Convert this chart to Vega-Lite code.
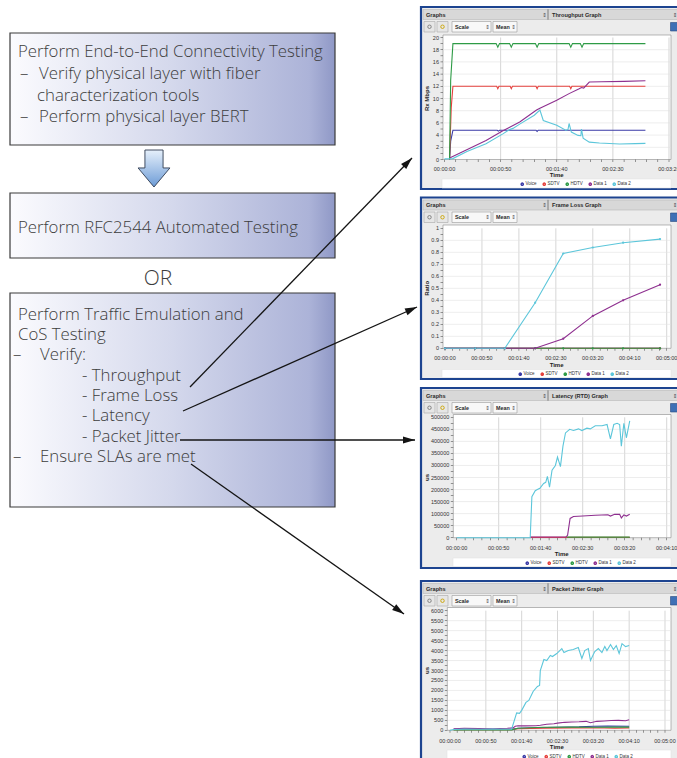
{
  "$schema": "https://vega.github.io/schema/vega-lite/v6.json",
  "width": 677,
  "height": 758,
  "autosize": {"type": "none"},
  "padding": 0,
  "background": "#ffffff",
  "config": {"view": {"stroke": null}},
  "datasets": {
    "boxes": [
      {"x": 10, "x2": 335, "y": 33, "y2": 145},
      {"x": 10, "x2": 335, "y": 193, "y2": 258},
      {"x": 10, "x2": 335, "y": 293, "y2": 507}
    ],
    "texts": [
      {"k": "b", "x": 18, "y": 57, "text": "Perform End-to-End Connectivity Testing"},
      {"k": "b", "x": 20, "y": 79, "text": "–"},
      {"k": "b", "x": 39, "y": 79, "text": "Verify physical layer with fiber"},
      {"k": "b", "x": 37, "y": 101, "text": "characterization tools"},
      {"k": "b", "x": 20, "y": 122, "text": "–"},
      {"k": "b", "x": 39, "y": 122, "text": "Perform physical layer BERT"},
      {"k": "b", "x": 18, "y": 233, "text": "Perform RFC2544 Automated Testing"},
      {"k": "or", "x": 158, "y": 285, "text": "OR"},
      {"k": "b", "x": 18, "y": 320, "text": "Perform Traffic Emulation and"},
      {"k": "b", "x": 18, "y": 340, "text": "CoS Testing"},
      {"k": "b", "x": 13, "y": 360, "text": "–"},
      {"k": "b", "x": 40, "y": 360, "text": "Verify:"},
      {"k": "b", "x": 82, "y": 380.5, "text": "- Throughput"},
      {"k": "b", "x": 82, "y": 401, "text": "- Frame Loss"},
      {"k": "b", "x": 82, "y": 421, "text": "- Latency"},
      {"k": "b", "x": 82, "y": 442, "text": "- Packet Jitter"},
      {"k": "b", "x": 13, "y": 462, "text": "–"},
      {"k": "b", "x": 40, "y": 462, "text": "Ensure SLAs are met"}
    ],
    "arrows": [
      {"x": 190, "y": 387, "x2": 412, "y2": 158},
      {"x": 183, "y": 411, "x2": 417, "y2": 307},
      {"x": 180, "y": 440, "x2": 415, "y2": 440},
      {"x": 191, "y": 464, "x2": 404, "y2": 614}
    ],
    "windows": [
      {"x": 421, "x2": 684, "y": 7, "y2": 189},
      {"x": 421, "x2": 684, "y": 197.5, "y2": 379},
      {"x": 421, "x2": 684, "y": 388, "y2": 568},
      {"x": 421, "x2": 684, "y": 581, "y2": 775}
    ],
    "chrome": [
      {"k": "bar", "x": 423, "x2": 680, "y": 9.5, "y2": 19.5},
      {"k": "div", "x": 547.6, "x2": 548.4, "y": 9.5, "y2": 19.5},
      {"k": "btn", "x": 424, "x2": 435, "y": 21.5, "y2": 32},
      {"k": "btn", "x": 437, "x2": 448, "y": 21.5, "y2": 32},
      {"k": "drop", "x": 452, "x2": 491, "y": 21.5, "y2": 32},
      {"k": "drop", "x": 493, "x2": 517, "y": 21.5, "y2": 32},
      {"k": "save", "x": 670.5, "x2": 678, "y": 22.5, "y2": 31},
      {"k": "plot", "x": 443, "x2": 671, "y": 35, "y2": 159.5},
      {"k": "leg", "x": 442, "x2": 671, "y": 179, "y2": 188},
      {"k": "bar", "x": 423, "x2": 680, "y": 200, "y2": 210},
      {"k": "div", "x": 547.6, "x2": 548.4, "y": 200, "y2": 210},
      {"k": "btn", "x": 424, "x2": 435, "y": 212, "y2": 222.5},
      {"k": "btn", "x": 437, "x2": 448, "y": 212, "y2": 222.5},
      {"k": "drop", "x": 452, "x2": 491, "y": 212, "y2": 222.5},
      {"k": "drop", "x": 493, "x2": 517, "y": 212, "y2": 222.5},
      {"k": "save", "x": 670.5, "x2": 678, "y": 213, "y2": 221.5},
      {"k": "plot", "x": 443, "x2": 671, "y": 225, "y2": 348.3},
      {"k": "leg", "x": 442, "x2": 671, "y": 369.5, "y2": 377.5},
      {"k": "bar", "x": 423, "x2": 680, "y": 390.5, "y2": 400.5},
      {"k": "div", "x": 547.6, "x2": 548.4, "y": 390.5, "y2": 400.5},
      {"k": "btn", "x": 424, "x2": 435, "y": 402.5, "y2": 413},
      {"k": "btn", "x": 437, "x2": 448, "y": 402.5, "y2": 413},
      {"k": "drop", "x": 452, "x2": 491, "y": 402.5, "y2": 413},
      {"k": "drop", "x": 493, "x2": 517, "y": 402.5, "y2": 413},
      {"k": "save", "x": 670.5, "x2": 678, "y": 403.5, "y2": 412},
      {"k": "plot", "x": 453.3, "x2": 671, "y": 414.5, "y2": 537.7},
      {"k": "leg", "x": 453, "x2": 671, "y": 558, "y2": 566.5},
      {"k": "bar", "x": 423, "x2": 680, "y": 583.5, "y2": 593.5},
      {"k": "div", "x": 547.6, "x2": 548.4, "y": 583.5, "y2": 593.5},
      {"k": "btn", "x": 424, "x2": 435, "y": 595.5, "y2": 606},
      {"k": "btn", "x": 437, "x2": 448, "y": 595.5, "y2": 606},
      {"k": "drop", "x": 452, "x2": 491, "y": 595.5, "y2": 606},
      {"k": "drop", "x": 493, "x2": 517, "y": 595.5, "y2": 606},
      {"k": "save", "x": 670.5, "x2": 678, "y": 596.5, "y2": 605},
      {"k": "plot", "x": 447.3, "x2": 671, "y": 607.5, "y2": 730.3},
      {"k": "leg", "x": 447, "x2": 671, "y": 750, "y2": 763}
    ],
    "labels": [
      {"k": "hdr", "x": 426, "y": 14.5, "text": "Graphs"},
      {"k": "hdr", "x": 552, "y": 14.5, "text": "Throughput Graph"},
      {"k": "sym", "x": 544.5, "y": 14.5, "text": "⇕"},
      {"k": "sym", "x": 675, "y": 14.5, "text": "⇕"},
      {"k": "drop", "x": 455, "y": 26.75, "text": "Scale"},
      {"k": "sym", "x": 487.5, "y": 26.75, "text": "⇕"},
      {"k": "drop", "x": 496, "y": 26.75, "text": "Mean"},
      {"k": "sym", "x": 513.5, "y": 26.75, "text": "⇕"},
      {"k": "hdr", "x": 426, "y": 205, "text": "Graphs"},
      {"k": "hdr", "x": 552, "y": 205, "text": "Frame Loss Graph"},
      {"k": "sym", "x": 544.5, "y": 205, "text": "⇕"},
      {"k": "sym", "x": 675, "y": 205, "text": "⇕"},
      {"k": "drop", "x": 455, "y": 217.25, "text": "Scale"},
      {"k": "sym", "x": 487.5, "y": 217.25, "text": "⇕"},
      {"k": "drop", "x": 496, "y": 217.25, "text": "Mean"},
      {"k": "sym", "x": 513.5, "y": 217.25, "text": "⇕"},
      {"k": "hdr", "x": 426, "y": 395.5, "text": "Graphs"},
      {"k": "hdr", "x": 552, "y": 395.5, "text": "Latency (RTD) Graph"},
      {"k": "sym", "x": 544.5, "y": 395.5, "text": "⇕"},
      {"k": "sym", "x": 675, "y": 395.5, "text": "⇕"},
      {"k": "drop", "x": 455, "y": 407.75, "text": "Scale"},
      {"k": "sym", "x": 487.5, "y": 407.75, "text": "⇕"},
      {"k": "drop", "x": 496, "y": 407.75, "text": "Mean"},
      {"k": "sym", "x": 513.5, "y": 407.75, "text": "⇕"},
      {"k": "hdr", "x": 426, "y": 588.5, "text": "Graphs"},
      {"k": "hdr", "x": 552, "y": 588.5, "text": "Packet Jitter Graph"},
      {"k": "sym", "x": 544.5, "y": 588.5, "text": "⇕"},
      {"k": "sym", "x": 675, "y": 588.5, "text": "⇕"},
      {"k": "drop", "x": 455, "y": 600.75, "text": "Scale"},
      {"k": "sym", "x": 487.5, "y": 600.75, "text": "⇕"},
      {"k": "drop", "x": 496, "y": 600.75, "text": "Mean"},
      {"k": "sym", "x": 513.5, "y": 600.75, "text": "⇕"}
    ],
    "icons": [
      {"k": "g", "x": 429.5, "y": 26.75}, {"k": "y", "x": 442.5, "y": 26.75},
      {"k": "g", "x": 429.5, "y": 217.25}, {"k": "y", "x": 442.5, "y": 217.25},
      {"k": "g", "x": 429.5, "y": 407.75}, {"k": "y", "x": 442.5, "y": 407.75},
      {"k": "g", "x": 429.5, "y": 600.75}, {"k": "y", "x": 442.5, "y": 600.75}
    ],
    "xt": [
      {"t": 0, "lab": "00:00:00"}, {"t": 10, "lab": ""}, {"t": 20, "lab": ""}, {"t": 30, "lab": ""}, {"t": 40, "lab": ""},
      {"t": 50, "lab": "00:00:50"}, {"t": 60, "lab": ""}, {"t": 70, "lab": ""}, {"t": 80, "lab": ""}, {"t": 90, "lab": ""},
      {"t": 100, "lab": "00:01:40"}, {"t": 110, "lab": ""}, {"t": 120, "lab": ""}, {"t": 130, "lab": ""}, {"t": 140, "lab": ""},
      {"t": 150, "lab": "00:02:30"}, {"t": 160, "lab": ""}, {"t": 170, "lab": ""}, {"t": 180, "lab": ""}, {"t": 190, "lab": ""},
      {"t": 200, "lab": "00:03:20"}, {"t": 210, "lab": ""}, {"t": 220, "lab": ""}, {"t": 230, "lab": ""}, {"t": 240, "lab": ""},
      {"t": 250, "lab": "00:04:10"}, {"t": 260, "lab": ""}, {"t": 270, "lab": ""}, {"t": 280, "lab": ""}, {"t": 290, "lab": ""},
      {"t": 300, "lab": "00:05:00"}
    ],
    "yt1": [
      {"v": 0}, {"v": 1}, {"v": 2}, {"v": 3}, {"v": 4}, {"v": 5}, {"v": 6}, {"v": 7}, {"v": 8}, {"v": 9}, {"v": 10},
      {"v": 11}, {"v": 12}, {"v": 13}, {"v": 14}, {"v": 15}, {"v": 16}, {"v": 17}, {"v": 18}, {"v": 19}, {"v": 20}
    ],
    "yt2": [
      {"v": 0}, {"v": 0.05}, {"v": 0.1}, {"v": 0.15}, {"v": 0.2}, {"v": 0.25}, {"v": 0.3}, {"v": 0.35}, {"v": 0.4}, {"v": 0.45}, {"v": 0.5},
      {"v": 0.55}, {"v": 0.6}, {"v": 0.65}, {"v": 0.7}, {"v": 0.75}, {"v": 0.8}, {"v": 0.85}, {"v": 0.9}, {"v": 0.95}, {"v": 1}
    ],
    "yt3": [
      {"v": 0}, {"v": 25000}, {"v": 50000}, {"v": 75000}, {"v": 100000}, {"v": 125000}, {"v": 150000}, {"v": 175000},
      {"v": 200000}, {"v": 225000}, {"v": 250000}, {"v": 275000}, {"v": 300000}, {"v": 325000}, {"v": 350000},
      {"v": 375000}, {"v": 400000}, {"v": 425000}, {"v": 450000}, {"v": 475000}, {"v": 500000}
    ],
    "yt4": [
      {"v": 0}, {"v": 250}, {"v": 500}, {"v": 750}, {"v": 1000}, {"v": 1250}, {"v": 1500}, {"v": 1750}, {"v": 2000},
      {"v": 2250}, {"v": 2500}, {"v": 2750}, {"v": 3000}, {"v": 3250}, {"v": 3500}, {"v": 3750}, {"v": 4000},
      {"v": 4250}, {"v": 4500}, {"v": 4750}, {"v": 5000}, {"v": 5250}, {"v": 5500}, {"v": 5750}, {"v": 6000}
    ],
    "tput": [
      {"s": "Voice", "t": 4.5, "v": 0}, {"s": "Voice", "t": 5.5, "v": 3}, {"s": "Voice", "t": 7.5, "v": 4.8},
      {"s": "Voice", "t": 47, "v": 4.8}, {"s": "Voice", "t": 48, "v": 4.65}, {"s": "Voice", "t": 49, "v": 4.8},
      {"s": "Voice", "t": 81.5, "v": 4.8}, {"s": "Voice", "t": 82.5, "v": 4.6}, {"s": "Voice", "t": 83.5, "v": 4.8},
      {"s": "Voice", "t": 179, "v": 4.8},
      {"s": "SDTV", "t": 4.5, "v": 0}, {"s": "SDTV", "t": 6, "v": 8.5}, {"s": "SDTV", "t": 7.5, "v": 12},
      {"s": "SDTV", "t": 46.5, "v": 12}, {"s": "SDTV", "t": 47.5, "v": 11.6}, {"s": "SDTV", "t": 48.5, "v": 12},
      {"s": "SDTV", "t": 58.5, "v": 12}, {"s": "SDTV", "t": 59.5, "v": 11.6}, {"s": "SDTV", "t": 60.5, "v": 12},
      {"s": "SDTV", "t": 81.5, "v": 12}, {"s": "SDTV", "t": 82.5, "v": 11.6}, {"s": "SDTV", "t": 83.5, "v": 12},
      {"s": "SDTV", "t": 111.5, "v": 12}, {"s": "SDTV", "t": 112.5, "v": 11.6}, {"s": "SDTV", "t": 113.5, "v": 12},
      {"s": "SDTV", "t": 179, "v": 12},
      {"s": "HDTV", "t": 4.5, "v": 0}, {"s": "HDTV", "t": 5.5, "v": 13}, {"s": "HDTV", "t": 7.5, "v": 19},
      {"s": "HDTV", "t": 46, "v": 19}, {"s": "HDTV", "t": 47.5, "v": 18.4}, {"s": "HDTV", "t": 49, "v": 19},
      {"s": "HDTV", "t": 58, "v": 19}, {"s": "HDTV", "t": 59.5, "v": 18.4}, {"s": "HDTV", "t": 61, "v": 19},
      {"s": "HDTV", "t": 81, "v": 19}, {"s": "HDTV", "t": 82.5, "v": 18.4}, {"s": "HDTV", "t": 84, "v": 19},
      {"s": "HDTV", "t": 111, "v": 19}, {"s": "HDTV", "t": 112.5, "v": 18.4}, {"s": "HDTV", "t": 114, "v": 19},
      {"s": "HDTV", "t": 121, "v": 19}, {"s": "HDTV", "t": 122.5, "v": 18.4}, {"s": "HDTV", "t": 124, "v": 19},
      {"s": "HDTV", "t": 179, "v": 19},
      {"s": "Data 1", "t": 5, "v": 0.3}, {"s": "Data 1", "t": 37, "v": 3.1}, {"s": "Data 1", "t": 52, "v": 4.7},
      {"s": "Data 1", "t": 67, "v": 6.15}, {"s": "Data 1", "t": 82, "v": 8.1}, {"s": "Data 1", "t": 85, "v": 8.4},
      {"s": "Data 1", "t": 100, "v": 9.7}, {"s": "Data 1", "t": 111, "v": 10.8}, {"s": "Data 1", "t": 120, "v": 11.6},
      {"s": "Data 1", "t": 122, "v": 11.8}, {"s": "Data 1", "t": 124, "v": 11.7}, {"s": "Data 1", "t": 129, "v": 12.7},
      {"s": "Data 1", "t": 140, "v": 12.75}, {"s": "Data 1", "t": 160, "v": 12.8}, {"s": "Data 1", "t": 179, "v": 12.9},
      {"s": "Data 2", "t": 0, "v": 0.1}, {"s": "Data 2", "t": 7.4, "v": 0.15}, {"s": "Data 2", "t": 20, "v": 1.3},
      {"s": "Data 2", "t": 37, "v": 2.6}, {"s": "Data 2", "t": 52, "v": 4.2}, {"s": "Data 2", "t": 58, "v": 4.9},
      {"s": "Data 2", "t": 61, "v": 5.1}, {"s": "Data 2", "t": 67, "v": 5.8}, {"s": "Data 2", "t": 80, "v": 7.25},
      {"s": "Data 2", "t": 85, "v": 8.1}, {"s": "Data 2", "t": 88, "v": 6.4}, {"s": "Data 2", "t": 100, "v": 5.6},
      {"s": "Data 2", "t": 108, "v": 4.8}, {"s": "Data 2", "t": 110, "v": 4.9}, {"s": "Data 2", "t": 111, "v": 5.9},
      {"s": "Data 2", "t": 113, "v": 4.5}, {"s": "Data 2", "t": 119, "v": 3.95}, {"s": "Data 2", "t": 121.5, "v": 3.9},
      {"s": "Data 2", "t": 122, "v": 5.0}, {"s": "Data 2", "t": 123.5, "v": 3.5}, {"s": "Data 2", "t": 129, "v": 2.85},
      {"s": "Data 2", "t": 138, "v": 2.7}, {"s": "Data 2", "t": 156, "v": 2.55}, {"s": "Data 2", "t": 170, "v": 2.6},
      {"s": "Data 2", "t": 179, "v": 2.65}
    ],
    "loss": [
      {"s": "Voice", "t": 0, "v": 0}, {"s": "Voice", "t": 291, "v": 0},
      {"s": "SDTV", "t": 0, "v": 0}, {"s": "SDTV", "t": 291, "v": 0},
      {"s": "HDTV", "t": 0, "v": 0}, {"s": "HDTV", "t": 41, "v": 0}, {"s": "HDTV", "t": 81, "v": 0}, {"s": "HDTV", "t": 122, "v": 0},
      {"s": "HDTV", "t": 160, "v": 0}, {"s": "HDTV", "t": 200, "v": 0}, {"s": "HDTV", "t": 241, "v": 0}, {"s": "HDTV", "t": 291, "v": 0},
      {"s": "Data 1", "t": 0, "v": 0}, {"s": "Data 1", "t": 41, "v": 0}, {"s": "Data 1", "t": 81, "v": 0}, {"s": "Data 1", "t": 122, "v": 0},
      {"s": "Data 1", "t": 160, "v": 0.08}, {"s": "Data 1", "t": 200, "v": 0.27}, {"s": "Data 1", "t": 241, "v": 0.40}, {"s": "Data 1", "t": 291, "v": 0.53},
      {"s": "Data 2", "t": 0, "v": 0}, {"s": "Data 2", "t": 41, "v": 0}, {"s": "Data 2", "t": 81, "v": 0}, {"s": "Data 2", "t": 122, "v": 0.38},
      {"s": "Data 2", "t": 160, "v": 0.79}, {"s": "Data 2", "t": 200, "v": 0.84}, {"s": "Data 2", "t": 241, "v": 0.88}, {"s": "Data 2", "t": 291, "v": 0.91}
    ],
    "lat": [
      {"s": "Voice", "t": 87.5, "v": 1000}, {"s": "Voice", "t": 206, "v": 1000},
      {"s": "SDTV", "t": 87.5, "v": 1500}, {"s": "SDTV", "t": 206, "v": 1500},
      {"s": "HDTV", "t": 131, "v": 2500}, {"s": "HDTV", "t": 206, "v": 2500},
      {"s": "Data 1", "t": 87.5, "v": 3000}, {"s": "Data 1", "t": 115, "v": 3000}, {"s": "Data 1", "t": 130, "v": 3500},
      {"s": "Data 1", "t": 132, "v": 10000}, {"s": "Data 1", "t": 135, "v": 80000}, {"s": "Data 1", "t": 139, "v": 88000},
      {"s": "Data 1", "t": 150, "v": 90000}, {"s": "Data 1", "t": 165, "v": 93000}, {"s": "Data 1", "t": 180, "v": 95000},
      {"s": "Data 1", "t": 183, "v": 90000}, {"s": "Data 1", "t": 188, "v": 97000}, {"s": "Data 1", "t": 194, "v": 97000},
      {"s": "Data 1", "t": 196, "v": 82000}, {"s": "Data 1", "t": 199, "v": 95000}, {"s": "Data 1", "t": 202, "v": 90000},
      {"s": "Data 1", "t": 206, "v": 97000},
      {"s": "Data 2", "t": 0, "v": 0}, {"s": "Data 2", "t": 87.5, "v": 0}, {"s": "Data 2", "t": 89.5, "v": 170000},
      {"s": "Data 2", "t": 93.5, "v": 195000}, {"s": "Data 2", "t": 96, "v": 200000}, {"s": "Data 2", "t": 99, "v": 205000},
      {"s": "Data 2", "t": 103.5, "v": 225000}, {"s": "Data 2", "t": 106, "v": 230000}, {"s": "Data 2", "t": 108, "v": 255000},
      {"s": "Data 2", "t": 110.5, "v": 210000}, {"s": "Data 2", "t": 113.5, "v": 280000}, {"s": "Data 2", "t": 117.5, "v": 300000},
      {"s": "Data 2", "t": 120, "v": 335000}, {"s": "Data 2", "t": 123.5, "v": 295000}, {"s": "Data 2", "t": 126.5, "v": 380000},
      {"s": "Data 2", "t": 129.5, "v": 435000}, {"s": "Data 2", "t": 134.5, "v": 450000}, {"s": "Data 2", "t": 139, "v": 445000},
      {"s": "Data 2", "t": 145, "v": 452000}, {"s": "Data 2", "t": 149, "v": 445000}, {"s": "Data 2", "t": 155, "v": 455000},
      {"s": "Data 2", "t": 159, "v": 452000}, {"s": "Data 2", "t": 165, "v": 465000}, {"s": "Data 2", "t": 173, "v": 465000},
      {"s": "Data 2", "t": 179, "v": 470000}, {"s": "Data 2", "t": 183, "v": 410000}, {"s": "Data 2", "t": 187, "v": 470000},
      {"s": "Data 2", "t": 191, "v": 475000}, {"s": "Data 2", "t": 194, "v": 470000}, {"s": "Data 2", "t": 196, "v": 380000},
      {"s": "Data 2", "t": 199, "v": 475000}, {"s": "Data 2", "t": 202, "v": 415000}, {"s": "Data 2", "t": 206, "v": 485000}
    ],
    "jit": [
      {"s": "Voice", "t": 5, "v": 50}, {"s": "Voice", "t": 50, "v": 40}, {"s": "Voice", "t": 86, "v": 50},
      {"s": "Voice", "t": 95, "v": 100}, {"s": "Voice", "t": 120, "v": 130}, {"s": "Voice", "t": 150, "v": 150},
      {"s": "Voice", "t": 180, "v": 170}, {"s": "Voice", "t": 200, "v": 200}, {"s": "Voice", "t": 220, "v": 210},
      {"s": "Voice", "t": 250, "v": 200},
      {"s": "SDTV", "t": 5, "v": 30}, {"s": "SDTV", "t": 86, "v": 30}, {"s": "SDTV", "t": 95, "v": 80},
      {"s": "SDTV", "t": 130, "v": 110}, {"s": "SDTV", "t": 170, "v": 120}, {"s": "SDTV", "t": 200, "v": 130},
      {"s": "SDTV", "t": 230, "v": 110}, {"s": "SDTV", "t": 250, "v": 120},
      {"s": "HDTV", "t": 5, "v": 20}, {"s": "HDTV", "t": 86, "v": 20}, {"s": "HDTV", "t": 95, "v": 100},
      {"s": "HDTV", "t": 130, "v": 150}, {"s": "HDTV", "t": 170, "v": 160}, {"s": "HDTV", "t": 200, "v": 150},
      {"s": "HDTV", "t": 230, "v": 160}, {"s": "HDTV", "t": 250, "v": 160},
      {"s": "Data 1", "t": 5, "v": 80}, {"s": "Data 1", "t": 20, "v": 100}, {"s": "Data 1", "t": 40, "v": 90},
      {"s": "Data 1", "t": 60, "v": 80}, {"s": "Data 1", "t": 80, "v": 100}, {"s": "Data 1", "t": 88, "v": 120},
      {"s": "Data 1", "t": 91, "v": 200}, {"s": "Data 1", "t": 95, "v": 230}, {"s": "Data 1", "t": 105, "v": 220},
      {"s": "Data 1", "t": 120, "v": 230}, {"s": "Data 1", "t": 126, "v": 250}, {"s": "Data 1", "t": 135, "v": 300},
      {"s": "Data 1", "t": 145, "v": 330}, {"s": "Data 1", "t": 150, "v": 360}, {"s": "Data 1", "t": 160, "v": 400},
      {"s": "Data 1", "t": 170, "v": 420}, {"s": "Data 1", "t": 180, "v": 430}, {"s": "Data 1", "t": 190, "v": 450},
      {"s": "Data 1", "t": 196, "v": 380}, {"s": "Data 1", "t": 205, "v": 450}, {"s": "Data 1", "t": 215, "v": 470},
      {"s": "Data 1", "t": 225, "v": 490}, {"s": "Data 1", "t": 235, "v": 500}, {"s": "Data 1", "t": 245, "v": 480},
      {"s": "Data 1", "t": 250, "v": 530},
      {"s": "Data 2", "t": 0, "v": 0}, {"s": "Data 2", "t": 5, "v": 40}, {"s": "Data 2", "t": 20, "v": 60},
      {"s": "Data 2", "t": 40, "v": 50}, {"s": "Data 2", "t": 60, "v": 60}, {"s": "Data 2", "t": 80, "v": 50},
      {"s": "Data 2", "t": 86, "v": 60}, {"s": "Data 2", "t": 93, "v": 870}, {"s": "Data 2", "t": 97, "v": 850},
      {"s": "Data 2", "t": 100, "v": 1000}, {"s": "Data 2", "t": 106, "v": 1400}, {"s": "Data 2", "t": 110, "v": 1500},
      {"s": "Data 2", "t": 116, "v": 1950}, {"s": "Data 2", "t": 122, "v": 2200}, {"s": "Data 2", "t": 125, "v": 2250},
      {"s": "Data 2", "t": 126, "v": 3000}, {"s": "Data 2", "t": 131, "v": 3550}, {"s": "Data 2", "t": 135, "v": 3500},
      {"s": "Data 2", "t": 140, "v": 3750}, {"s": "Data 2", "t": 143, "v": 3700}, {"s": "Data 2", "t": 149, "v": 3850},
      {"s": "Data 2", "t": 156, "v": 4100}, {"s": "Data 2", "t": 159, "v": 3900}, {"s": "Data 2", "t": 165, "v": 4000},
      {"s": "Data 2", "t": 172, "v": 4050}, {"s": "Data 2", "t": 179, "v": 4150}, {"s": "Data 2", "t": 184, "v": 3600},
      {"s": "Data 2", "t": 188, "v": 4000}, {"s": "Data 2", "t": 193, "v": 4100}, {"s": "Data 2", "t": 196, "v": 3500},
      {"s": "Data 2", "t": 202, "v": 3950}, {"s": "Data 2", "t": 207, "v": 4100}, {"s": "Data 2", "t": 212, "v": 3900},
      {"s": "Data 2", "t": 216, "v": 4200}, {"s": "Data 2", "t": 219, "v": 4000}, {"s": "Data 2", "t": 224, "v": 4300},
      {"s": "Data 2", "t": 228, "v": 4050}, {"s": "Data 2", "t": 232, "v": 4250}, {"s": "Data 2", "t": 236, "v": 3850},
      {"s": "Data 2", "t": 240, "v": 4350}, {"s": "Data 2", "t": 245, "v": 4200}, {"s": "Data 2", "t": 250, "v": 4250}
    ]
  },
  "layer": [
    {
      "layer": [
        {
          "data": {"name": "boxes"},
          "mark": {"type": "rect", "stroke": "#3a3a3a", "strokeWidth": 1.2,
            "fill": {"gradient": "linear", "x1": 0, "y1": 0, "x2": 1, "y2": 0,
              "stops": [{"offset": 0, "color": "#fbfbfe"}, {"offset": 0.5, "color": "#d4d8ec"}, {"offset": 0.92, "color": "#acb3d8"}, {"offset": 1, "color": "#8f98c6"}]}},
          "encoding": {
            "x": {"field": "x", "type": "quantitative", "scale": {"domain": [0, 677], "range": [0, 677]}, "axis": null},
            "x2": {"field": "x2"},
            "y": {"field": "y", "type": "quantitative", "scale": {"domain": [0, 758], "range": [0, 758]}, "axis": null},
            "y2": {"field": "y2"}
          }
        },
        {
          "data": {"values": [{"x": 154, "y": 168.5}]},
          "mark": {"type": "point", "filled": true, "size": 1369, "opacity": 1, "stroke": "#2f3b50", "strokeWidth": 0.9,
            "shape": "M-0.49,-1 L0.49,-1 L0.49,-0.03 L0.86,-0.03 L0,1 L-0.86,-0.03 L-0.49,-0.03 Z",
            "fill": {"gradient": "linear", "x1": 0, "y1": 0, "x2": 0, "y2": 1,
              "stops": [{"offset": 0, "color": "#e6f0fb"}, {"offset": 1, "color": "#6c9bd6"}]}},
          "encoding": {
            "x": {"field": "x", "type": "quantitative", "scale": {"domain": [0, 677], "range": [0, 677]}, "axis": null},
            "y": {"field": "y", "type": "quantitative", "scale": {"domain": [0, 758], "range": [0, 758]}, "axis": null}
          }
        },
        {
          "data": {"name": "texts"},
          "transform": [{"filter": "datum.k == 'b'"}],
          "mark": {"type": "text", "font": "Open Sans", "fontWeight": 300, "fontSize": 16.8, "color": "#3c3c3c", "align": "left", "baseline": "alphabetic"},
          "encoding": {
            "x": {"field": "x", "type": "quantitative", "scale": {"domain": [0, 677], "range": [0, 677]}, "axis": null},
            "y": {"field": "y", "type": "quantitative", "scale": {"domain": [0, 758], "range": [0, 758]}, "axis": null},
            "text": {"field": "text"}
          }
        },
        {
          "data": {"name": "texts"},
          "transform": [{"filter": "datum.k == 'or'"}],
          "mark": {"type": "text", "font": "Open Sans", "fontWeight": 300, "fontSize": 21, "color": "#3c3c3c", "align": "center", "baseline": "alphabetic"},
          "encoding": {
            "x": {"field": "x", "type": "quantitative", "scale": {"domain": [0, 677], "range": [0, 677]}, "axis": null},
            "y": {"field": "y", "type": "quantitative", "scale": {"domain": [0, 758], "range": [0, 758]}, "axis": null},
            "text": {"field": "text"}
          }
        },
        {
          "data": {"name": "arrows"},
          "mark": {"type": "rule", "color": "#141414", "strokeWidth": 1.3},
          "encoding": {
            "x": {"field": "x", "type": "quantitative", "scale": {"domain": [0, 677], "range": [0, 677]}, "axis": null},
            "y": {"field": "y", "type": "quantitative", "scale": {"domain": [0, 758], "range": [0, 758]}, "axis": null},
            "x2": {"field": "x2"},
            "y2": {"field": "y2"}
          }
        },
        {
          "data": {"name": "arrows"},
          "transform": [{"calculate": "atan2(datum.x2 - datum.x, datum.y - datum.y2) * 180 / PI", "as": "ang"}],
          "mark": {"type": "point", "filled": true, "size": 144, "opacity": 1, "color": "#141414", "strokeWidth": 0, "shape": "M0,0 L0.6,2 L-0.6,2 Z"},
          "encoding": {
            "x": {"field": "x2", "type": "quantitative", "scale": {"domain": [0, 677], "range": [0, 677]}, "axis": null},
            "y": {"field": "y2", "type": "quantitative", "scale": {"domain": [0, 758], "range": [0, 758]}, "axis": null},
            "angle": {"field": "ang", "type": "quantitative", "scale": null}
          }
        },
        {
          "data": {"name": "windows"},
          "mark": {"type": "rect", "fill": "#ececec", "stroke": "#1d4490", "strokeWidth": 2.2},
          "encoding": {
            "x": {"field": "x", "type": "quantitative", "scale": {"domain": [0, 677], "range": [0, 677]}, "axis": null},
            "x2": {"field": "x2"},
            "y": {"field": "y", "type": "quantitative", "scale": {"domain": [0, 758], "range": [0, 758]}, "axis": null},
            "y2": {"field": "y2"}
          }
        },
        {
          "data": {"name": "chrome"},
          "mark": {"type": "rect", "strokeWidth": 0.6},
          "encoding": {
            "x": {"field": "x", "type": "quantitative", "scale": {"domain": [0, 677], "range": [0, 677]}, "axis": null},
            "x2": {"field": "x2"},
            "y": {"field": "y", "type": "quantitative", "scale": {"domain": [0, 758], "range": [0, 758]}, "axis": null},
            "y2": {"field": "y2"},
            "fill": {"field": "k", "type": "nominal", "legend": null,
              "scale": {"domain": ["bar", "div", "btn", "drop", "save", "plot", "leg"], "range": ["#d8d8d8", "#9a9a9a", "#e6e6e6", "#f8f8f8", "#3f70b5", "#ffffff", "#ffffff"]}},
            "stroke": {"field": "k", "type": "nominal", "legend": null,
              "scale": {"domain": ["bar", "div", "btn", "drop", "save", "plot", "leg"], "range": ["#b8b8b8", "#9a9a9a", "#a8a8a8", "#9a9a9a", "#2a4a80", "#8a8a8a", "#e4e4e4"]}}
          }
        },
        {
          "data": {"name": "icons"},
          "mark": {"type": "point", "size": 12, "filled": false, "strokeWidth": 0.9, "opacity": 1},
          "encoding": {
            "x": {"field": "x", "type": "quantitative", "scale": {"domain": [0, 677], "range": [0, 677]}, "axis": null},
            "y": {"field": "y", "type": "quantitative", "scale": {"domain": [0, 758], "range": [0, 758]}, "axis": null},
            "color": {"field": "k", "type": "nominal", "legend": null, "scale": {"domain": ["g", "y"], "range": ["#7a7a7a", "#c9a300"]}}
          }
        },
        {
          "data": {"name": "labels"},
          "transform": [{"filter": "datum.k == 'hdr'"}],
          "mark": {"type": "text", "font": "Liberation Sans", "fontWeight": "bold", "fontSize": 5.6, "color": "#2a2a2a", "align": "left", "baseline": "middle"},
          "encoding": {
            "x": {"field": "x", "type": "quantitative", "scale": {"domain": [0, 677], "range": [0, 677]}, "axis": null},
            "y": {"field": "y", "type": "quantitative", "scale": {"domain": [0, 758], "range": [0, 758]}, "axis": null},
            "text": {"field": "text"}
          }
        },
        {
          "data": {"name": "labels"},
          "transform": [{"filter": "datum.k == 'drop'"}],
          "mark": {"type": "text", "font": "Liberation Sans", "fontWeight": "bold", "fontSize": 5.4, "color": "#2a2a2a", "align": "left", "baseline": "middle"},
          "encoding": {
            "x": {"field": "x", "type": "quantitative", "scale": {"domain": [0, 677], "range": [0, 677]}, "axis": null},
            "y": {"field": "y", "type": "quantitative", "scale": {"domain": [0, 758], "range": [0, 758]}, "axis": null},
            "text": {"field": "text"}
          }
        },
        {
          "data": {"name": "labels"},
          "transform": [{"filter": "datum.k == 'sym'"}],
          "mark": {"type": "text", "font": "DejaVu Sans", "fontSize": 5.5, "color": "#444444", "align": "center", "baseline": "middle"},
          "encoding": {
            "x": {"field": "x", "type": "quantitative", "scale": {"domain": [0, 677], "range": [0, 677]}, "axis": null},
            "y": {"field": "y", "type": "quantitative", "scale": {"domain": [0, 758], "range": [0, 758]}, "axis": null},
            "text": {"field": "text"}
          }
        }
      ]
    },
    {
      "layer": [
        {
          "data": {"values": [{"t": 50}, {"t": 100}, {"t": 150}, {"t": 200}]},
          "mark": {"type": "rule", "color": "#c4c4c4", "strokeWidth": 0.7},
          "encoding": {
            "x": {"field": "t", "type": "quantitative", "scale": {"domain": [0, 200], "range": [444.5, 669]}, "axis": null},
            "y": {"datum": 0, "type": "quantitative", "scale": {"domain": [0, 20], "range": [159.5, 37.5]}, "axis": null},
            "y2": {"datum": 20}
          }
        },
        {
          "data": {"values": [{"v": 2}, {"v": 4}, {"v": 6}, {"v": 8}, {"v": 10}, {"v": 12}, {"v": 14}, {"v": 16}, {"v": 18}]},
          "mark": {"type": "rule", "color": "#e0e0e0", "strokeWidth": 0.6},
          "encoding": {
            "y": {"field": "v", "type": "quantitative", "scale": {"domain": [0, 20], "range": [159.5, 37.5]}, "axis": null},
            "x": {"datum": -1.3, "type": "quantitative", "scale": {"domain": [0, 200], "range": [444.5, 669]}, "axis": null},
            "x2": {"datum": 201.7}
          }
        },
        {
          "data": {"name": "xt"},
          "transform": [{"filter": "datum.t <= 200"}],
          "mark": {"type": "tick", "orient": "vertical", "size": 2.5, "thickness": 0.6, "color": "#555555", "opacity": 1, "yOffset": 1.25},
          "encoding": {
            "x": {"field": "t", "type": "quantitative", "scale": {"domain": [0, 200], "range": [444.5, 669]}, "axis": null},
            "y": {"datum": 0, "type": "quantitative", "scale": {"domain": [0, 20], "range": [159.5, 37.5]}, "axis": null}
          }
        },
        {
          "data": {"name": "xt"},
          "transform": [{"filter": "datum.t <= 200 && datum.lab != ''"}],
          "mark": {"type": "text", "font": "Liberation Sans", "fontSize": 5.5, "color": "#333333", "baseline": "middle", "dy": 9.2},
          "encoding": {
            "x": {"field": "t", "type": "quantitative", "scale": {"domain": [0, 200], "range": [444.5, 669]}, "axis": null},
            "y": {"datum": 0, "type": "quantitative", "scale": {"domain": [0, 20], "range": [159.5, 37.5]}, "axis": null},
            "text": {"field": "lab"}
          }
        },
        {
          "data": {"values": [{"t": 100, "lab": "Time"}]},
          "mark": {"type": "text", "font": "Liberation Sans", "fontSize": 6, "fontWeight": "bold", "color": "#222222", "baseline": "middle", "dy": 15.5},
          "encoding": {
            "x": {"field": "t", "type": "quantitative", "scale": {"domain": [0, 200], "range": [444.5, 669]}, "axis": null},
            "y": {"datum": 0, "type": "quantitative", "scale": {"domain": [0, 20], "range": [159.5, 37.5]}, "axis": null},
            "text": {"field": "lab"}
          }
        },
        {
          "data": {"name": "yt1"},
          "mark": {"type": "tick", "orient": "horizontal", "size": 2.5, "thickness": 0.6, "color": "#555555", "opacity": 1, "xOffset": -1.25},
          "encoding": {
            "y": {"field": "v", "type": "quantitative", "scale": {"domain": [0, 20], "range": [159.5, 37.5]}, "axis": null},
            "x": {"datum": -1.34, "type": "quantitative", "scale": {"domain": [0, 200], "range": [444.5, 669]}, "axis": null}
          }
        },
        {
          "data": {"name": "yt1"},
          "transform": [{"filter": "datum.v % 2 == 0"}],
          "mark": {"type": "text", "font": "Liberation Sans", "fontSize": 5.5, "color": "#333333", "align": "right", "baseline": "middle", "dx": -4},
          "encoding": {
            "y": {"field": "v", "type": "quantitative", "scale": {"domain": [0, 20], "range": [159.5, 37.5]}, "axis": null},
            "x": {"datum": -1.34, "type": "quantitative", "scale": {"domain": [0, 200], "range": [444.5, 669]}, "axis": null},
            "text": {"field": "v", "type": "quantitative", "format": "d"}
          }
        },
        {
          "data": {"values": [{"v": 10, "lab": "Rx Mbps"}]},
          "mark": {"type": "text", "font": "Liberation Sans", "fontSize": 6, "fontWeight": "bold", "color": "#222222", "angle": 270, "align": "center", "baseline": "middle", "xOffset": -15.7},
          "encoding": {
            "y": {"field": "v", "type": "quantitative", "scale": {"domain": [0, 20], "range": [159.5, 37.5]}, "axis": null},
            "x": {"datum": -1.34, "type": "quantitative", "scale": {"domain": [0, 200], "range": [444.5, 669]}, "axis": null},
            "text": {"field": "lab"}
          }
        },
        {
          "data": {"name": "tput"},
          "mark": {"type": "line", "strokeWidth": 1.1},
          "encoding": {
            "x": {"field": "t", "type": "quantitative", "scale": {"domain": [0, 200], "range": [444.5, 669]}, "axis": null},
            "y": {"field": "v", "type": "quantitative", "scale": {"domain": [0, 20], "range": [159.5, 37.5]}, "axis": null},
            "color": {"field": "s", "type": "nominal",
              "scale": {"domain": ["Voice", "SDTV", "HDTV", "Data 1", "Data 2"], "range": ["#3a3aa6", "#e5403c", "#2e9b46", "#8e2f8f", "#5cc6da"]},
              "legend": {"orient": "none", "legendX": 520, "legendY": 181.5, "direction": "horizontal", "columns": 5, "title": null,
                "labelFont": "Liberation Sans", "labelFontSize": 4.5, "labelColor": "#333333", "symbolType": "circle", "symbolSize": 5,
                "symbolStrokeWidth": 1.4, "columnPadding": 3, "labelOffset": 1, "padding": 0}}
          }
        }
      ]
    },
    {
      "layer": [
        {
          "data": {"values": [{"t": 50}, {"t": 100}, {"t": 150}, {"t": 200}, {"t": 250}, {"t": 300}]},
          "mark": {"type": "rule", "color": "#c4c4c4", "strokeWidth": 0.7},
          "encoding": {
            "x": {"field": "t", "type": "quantitative", "scale": {"domain": [0, 300], "range": [445, 666.7]}, "axis": null},
            "y": {"datum": 0, "type": "quantitative", "scale": {"domain": [0, 1], "range": [348.3, 228.3]}, "axis": null},
            "y2": {"datum": 1}
          }
        },
        {
          "data": {"values": [{"v": 0.1}, {"v": 0.2}, {"v": 0.3}, {"v": 0.4}, {"v": 0.5}, {"v": 0.6}, {"v": 0.7}, {"v": 0.8}, {"v": 0.9}]},
          "mark": {"type": "rule", "color": "#e0e0e0", "strokeWidth": 0.6},
          "encoding": {
            "y": {"field": "v", "type": "quantitative", "scale": {"domain": [0, 1], "range": [348.3, 228.3]}, "axis": null},
            "x": {"datum": -2.7, "type": "quantitative", "scale": {"domain": [0, 300], "range": [445, 666.7]}, "axis": null},
            "x2": {"datum": 305.6}
          }
        },
        {
          "data": {"name": "xt"},
          "mark": {"type": "tick", "orient": "vertical", "size": 2.5, "thickness": 0.6, "color": "#555555", "opacity": 1, "yOffset": 1.25},
          "encoding": {
            "x": {"field": "t", "type": "quantitative", "scale": {"domain": [0, 300], "range": [445, 666.7]}, "axis": null},
            "y": {"datum": 0, "type": "quantitative", "scale": {"domain": [0, 1], "range": [348.3, 228.3]}, "axis": null}
          }
        },
        {
          "data": {"name": "xt"},
          "transform": [{"filter": "datum.lab != ''"}],
          "mark": {"type": "text", "font": "Liberation Sans", "fontSize": 5.5, "color": "#333333", "baseline": "middle", "dy": 10},
          "encoding": {
            "x": {"field": "t", "type": "quantitative", "scale": {"domain": [0, 300], "range": [445, 666.7]}, "axis": null},
            "y": {"datum": 0, "type": "quantitative", "scale": {"domain": [0, 1], "range": [348.3, 228.3]}, "axis": null},
            "text": {"field": "lab"}
          }
        },
        {
          "data": {"values": [{"t": 151, "lab": "Time"}]},
          "mark": {"type": "text", "font": "Liberation Sans", "fontSize": 6, "fontWeight": "bold", "color": "#222222", "baseline": "middle", "dy": 16.7},
          "encoding": {
            "x": {"field": "t", "type": "quantitative", "scale": {"domain": [0, 300], "range": [445, 666.7]}, "axis": null},
            "y": {"datum": 0, "type": "quantitative", "scale": {"domain": [0, 1], "range": [348.3, 228.3]}, "axis": null},
            "text": {"field": "lab"}
          }
        },
        {
          "data": {"name": "yt2"},
          "mark": {"type": "tick", "orient": "horizontal", "size": 2.5, "thickness": 0.6, "color": "#555555", "opacity": 1, "xOffset": -1.25},
          "encoding": {
            "y": {"field": "v", "type": "quantitative", "scale": {"domain": [0, 1], "range": [348.3, 228.3]}, "axis": null},
            "x": {"datum": -2.7, "type": "quantitative", "scale": {"domain": [0, 300], "range": [445, 666.7]}, "axis": null}
          }
        },
        {
          "data": {"name": "yt2"},
          "transform": [{"filter": "round(datum.v * 100) % 10 == 0"}],
          "mark": {"type": "text", "font": "Liberation Sans", "fontSize": 5.5, "color": "#333333", "align": "right", "baseline": "middle", "dx": -4},
          "encoding": {
            "y": {"field": "v", "type": "quantitative", "scale": {"domain": [0, 1], "range": [348.3, 228.3]}, "axis": null},
            "x": {"datum": -2.7, "type": "quantitative", "scale": {"domain": [0, 300], "range": [445, 666.7]}, "axis": null},
            "text": {"field": "v", "type": "quantitative", "format": "~g"}
          }
        },
        {
          "data": {"values": [{"v": 0.5, "lab": "Ratio"}]},
          "mark": {"type": "text", "font": "Liberation Sans", "fontSize": 6, "fontWeight": "bold", "color": "#222222", "angle": 270, "align": "center", "baseline": "middle", "xOffset": -15.7},
          "encoding": {
            "y": {"field": "v", "type": "quantitative", "scale": {"domain": [0, 1], "range": [348.3, 228.3]}, "axis": null},
            "x": {"datum": -2.7, "type": "quantitative", "scale": {"domain": [0, 300], "range": [445, 666.7]}, "axis": null},
            "text": {"field": "lab"}
          }
        },
        {
          "data": {"name": "loss"},
          "mark": {"type": "line", "strokeWidth": 1.1},
          "encoding": {
            "x": {"field": "t", "type": "quantitative", "scale": {"domain": [0, 300], "range": [445, 666.7]}, "axis": null},
            "y": {"field": "v", "type": "quantitative", "scale": {"domain": [0, 1], "range": [348.3, 228.3]}, "axis": null},
            "color": {"field": "s", "type": "nominal",
              "scale": {"domain": ["Voice", "SDTV", "HDTV", "Data 1", "Data 2"], "range": ["#3a3aa6", "#e5403c", "#2e9b46", "#8e2f8f", "#5cc6da"]},
              "legend": {"orient": "none", "legendX": 518, "legendY": 371.5, "direction": "horizontal", "columns": 5, "title": null,
                "labelFont": "Liberation Sans", "labelFontSize": 4.5, "labelColor": "#333333", "symbolType": "circle", "symbolSize": 5,
                "symbolStrokeWidth": 1.4, "columnPadding": 3, "labelOffset": 1, "padding": 0}}
          }
        },
        {
          "data": {"name": "loss"},
          "mark": {"type": "point", "filled": true, "size": 5, "opacity": 1},
          "encoding": {
            "x": {"field": "t", "type": "quantitative", "scale": {"domain": [0, 300], "range": [445, 666.7]}, "axis": null},
            "y": {"field": "v", "type": "quantitative", "scale": {"domain": [0, 1], "range": [348.3, 228.3]}, "axis": null},
            "color": {"field": "s", "type": "nominal", "legend": null,
              "scale": {"domain": ["Voice", "SDTV", "HDTV", "Data 1", "Data 2"], "range": ["#3a3aa6", "#e5403c", "#2e9b46", "#8e2f8f", "#5cc6da"]}}
          }
        }
      ]
    },
    {
      "layer": [
        {
          "data": {"values": [{"t": 50}, {"t": 100}, {"t": 150}, {"t": 200}, {"t": 250}]},
          "mark": {"type": "rule", "color": "#c4c4c4", "strokeWidth": 0.7},
          "encoding": {
            "x": {"field": "t", "type": "quantitative", "scale": {"domain": [0, 250], "range": [456.7, 666.7]}, "axis": null},
            "y": {"datum": 0, "type": "quantitative", "scale": {"domain": [0, 500000], "range": [537.7, 417.3]}, "axis": null},
            "y2": {"datum": 500000}
          }
        },
        {
          "data": {"values": [{"v": 50000}, {"v": 100000}, {"v": 150000}, {"v": 200000}, {"v": 250000}, {"v": 300000}, {"v": 350000}, {"v": 400000}, {"v": 450000}]},
          "mark": {"type": "rule", "color": "#e0e0e0", "strokeWidth": 0.6},
          "encoding": {
            "y": {"field": "v", "type": "quantitative", "scale": {"domain": [0, 500000], "range": [537.7, 417.3]}, "axis": null},
            "x": {"datum": -4, "type": "quantitative", "scale": {"domain": [0, 250], "range": [456.7, 666.7]}, "axis": null},
            "x2": {"datum": 255}
          }
        },
        {
          "data": {"name": "xt"},
          "transform": [{"filter": "datum.t <= 250"}],
          "mark": {"type": "tick", "orient": "vertical", "size": 2.5, "thickness": 0.6, "color": "#555555", "opacity": 1, "yOffset": 1.25},
          "encoding": {
            "x": {"field": "t", "type": "quantitative", "scale": {"domain": [0, 250], "range": [456.7, 666.7]}, "axis": null},
            "y": {"datum": 0, "type": "quantitative", "scale": {"domain": [0, 500000], "range": [537.7, 417.3]}, "axis": null}
          }
        },
        {
          "data": {"name": "xt"},
          "transform": [{"filter": "datum.t <= 250 && datum.lab != ''"}],
          "mark": {"type": "text", "font": "Liberation Sans", "fontSize": 5.5, "color": "#333333", "baseline": "middle", "dy": 10.6},
          "encoding": {
            "x": {"field": "t", "type": "quantitative", "scale": {"domain": [0, 250], "range": [456.7, 666.7]}, "axis": null},
            "y": {"datum": 0, "type": "quantitative", "scale": {"domain": [0, 500000], "range": [537.7, 417.3]}, "axis": null},
            "text": {"field": "lab"}
          }
        },
        {
          "data": {"values": [{"t": 125, "lab": "Time"}]},
          "mark": {"type": "text", "font": "Liberation Sans", "fontSize": 6, "fontWeight": "bold", "color": "#222222", "baseline": "middle", "dy": 16.3},
          "encoding": {
            "x": {"field": "t", "type": "quantitative", "scale": {"domain": [0, 250], "range": [456.7, 666.7]}, "axis": null},
            "y": {"datum": 0, "type": "quantitative", "scale": {"domain": [0, 500000], "range": [537.7, 417.3]}, "axis": null},
            "text": {"field": "lab"}
          }
        },
        {
          "data": {"name": "yt3"},
          "mark": {"type": "tick", "orient": "horizontal", "size": 2.5, "thickness": 0.6, "color": "#555555", "opacity": 1, "xOffset": -1.25},
          "encoding": {
            "y": {"field": "v", "type": "quantitative", "scale": {"domain": [0, 500000], "range": [537.7, 417.3]}, "axis": null},
            "x": {"datum": -4.05, "type": "quantitative", "scale": {"domain": [0, 250], "range": [456.7, 666.7]}, "axis": null}
          }
        },
        {
          "data": {"name": "yt3"},
          "transform": [{"filter": "datum.v % 50000 == 0"}],
          "mark": {"type": "text", "font": "Liberation Sans", "fontSize": 5.5, "color": "#333333", "align": "right", "baseline": "middle", "dx": -4},
          "encoding": {
            "y": {"field": "v", "type": "quantitative", "scale": {"domain": [0, 500000], "range": [537.7, 417.3]}, "axis": null},
            "x": {"datum": -4.05, "type": "quantitative", "scale": {"domain": [0, 250], "range": [456.7, 666.7]}, "axis": null},
            "text": {"field": "v", "type": "quantitative", "format": "d"}
          }
        },
        {
          "data": {"values": [{"v": 250000, "lab": "us"}]},
          "mark": {"type": "text", "font": "Liberation Sans", "fontSize": 6, "fontWeight": "bold", "color": "#222222", "angle": 270, "align": "center", "baseline": "middle", "xOffset": -26.3},
          "encoding": {
            "y": {"field": "v", "type": "quantitative", "scale": {"domain": [0, 500000], "range": [537.7, 417.3]}, "axis": null},
            "x": {"datum": -4.05, "type": "quantitative", "scale": {"domain": [0, 250], "range": [456.7, 666.7]}, "axis": null},
            "text": {"field": "lab"}
          }
        },
        {
          "data": {"name": "lat"},
          "mark": {"type": "line", "strokeWidth": 1.1},
          "encoding": {
            "x": {"field": "t", "type": "quantitative", "scale": {"domain": [0, 250], "range": [456.7, 666.7]}, "axis": null},
            "y": {"field": "v", "type": "quantitative", "scale": {"domain": [0, 500000], "range": [537.7, 417.3]}, "axis": null},
            "color": {"field": "s", "type": "nominal",
              "scale": {"domain": ["Voice", "SDTV", "HDTV", "Data 1", "Data 2"], "range": ["#3a3aa6", "#e5403c", "#2e9b46", "#8e2f8f", "#5cc6da"]},
              "legend": {"orient": "none", "legendX": 525, "legendY": 560.5, "direction": "horizontal", "columns": 5, "title": null,
                "labelFont": "Liberation Sans", "labelFontSize": 4.5, "labelColor": "#333333", "symbolType": "circle", "symbolSize": 5,
                "symbolStrokeWidth": 1.4, "columnPadding": 3, "labelOffset": 1, "padding": 0}}
          }
        }
      ]
    },
    {
      "layer": [
        {
          "data": {"values": [{"t": 50}, {"t": 100}, {"t": 150}, {"t": 200}, {"t": 250}, {"t": 300}]},
          "mark": {"type": "rule", "color": "#c4c4c4", "strokeWidth": 0.7},
          "encoding": {
            "x": {"field": "t", "type": "quantitative", "scale": {"domain": [0, 300], "range": [450, 665]}, "axis": null},
            "y": {"datum": 0, "type": "quantitative", "scale": {"domain": [0, 6000], "range": [730.3, 610.7]}, "axis": null},
            "y2": {"datum": 6000}
          }
        },
        {
          "data": {"values": [{"v": 500}, {"v": 1000}, {"v": 1500}, {"v": 2000}, {"v": 2500}, {"v": 3000}, {"v": 3500}, {"v": 4000}, {"v": 4500}, {"v": 5000}, {"v": 5500}]},
          "mark": {"type": "rule", "color": "#e0e0e0", "strokeWidth": 0.6},
          "encoding": {
            "y": {"field": "v", "type": "quantitative", "scale": {"domain": [0, 6000], "range": [730.3, 610.7]}, "axis": null},
            "x": {"datum": -3.8, "type": "quantitative", "scale": {"domain": [0, 300], "range": [450, 665]}, "axis": null},
            "x2": {"datum": 308.4}
          }
        },
        {
          "data": {"name": "xt"},
          "mark": {"type": "tick", "orient": "vertical", "size": 2.5, "thickness": 0.6, "color": "#555555", "opacity": 1, "yOffset": 1.25},
          "encoding": {
            "x": {"field": "t", "type": "quantitative", "scale": {"domain": [0, 300], "range": [450, 665]}, "axis": null},
            "y": {"datum": 0, "type": "quantitative", "scale": {"domain": [0, 6000], "range": [730.3, 610.7]}, "axis": null}
          }
        },
        {
          "data": {"name": "xt"},
          "transform": [{"filter": "datum.lab != ''"}],
          "mark": {"type": "text", "font": "Liberation Sans", "fontSize": 5.5, "color": "#333333", "baseline": "middle", "dy": 11},
          "encoding": {
            "x": {"field": "t", "type": "quantitative", "scale": {"domain": [0, 300], "range": [450, 665]}, "axis": null},
            "y": {"datum": 0, "type": "quantitative", "scale": {"domain": [0, 6000], "range": [730.3, 610.7]}, "axis": null},
            "text": {"field": "lab"}
          }
        },
        {
          "data": {"values": [{"t": 149, "lab": "Time"}]},
          "mark": {"type": "text", "font": "Liberation Sans", "fontSize": 6, "fontWeight": "bold", "color": "#222222", "baseline": "middle", "dy": 16.7},
          "encoding": {
            "x": {"field": "t", "type": "quantitative", "scale": {"domain": [0, 300], "range": [450, 665]}, "axis": null},
            "y": {"datum": 0, "type": "quantitative", "scale": {"domain": [0, 6000], "range": [730.3, 610.7]}, "axis": null},
            "text": {"field": "lab"}
          }
        },
        {
          "data": {"name": "yt4"},
          "mark": {"type": "tick", "orient": "horizontal", "size": 2.5, "thickness": 0.6, "color": "#555555", "opacity": 1, "xOffset": -1.25},
          "encoding": {
            "y": {"field": "v", "type": "quantitative", "scale": {"domain": [0, 6000], "range": [730.3, 610.7]}, "axis": null},
            "x": {"datum": -3.77, "type": "quantitative", "scale": {"domain": [0, 300], "range": [450, 665]}, "axis": null}
          }
        },
        {
          "data": {"name": "yt4"},
          "transform": [{"filter": "datum.v % 500 == 0"}],
          "mark": {"type": "text", "font": "Liberation Sans", "fontSize": 5.5, "color": "#333333", "align": "right", "baseline": "middle", "dx": -4},
          "encoding": {
            "y": {"field": "v", "type": "quantitative", "scale": {"domain": [0, 6000], "range": [730.3, 610.7]}, "axis": null},
            "x": {"datum": -3.77, "type": "quantitative", "scale": {"domain": [0, 300], "range": [450, 665]}, "axis": null},
            "text": {"field": "v", "type": "quantitative", "format": "d"}
          }
        },
        {
          "data": {"values": [{"v": 3000, "lab": "us"}]},
          "mark": {"type": "text", "font": "Liberation Sans", "fontSize": 6, "fontWeight": "bold", "color": "#222222", "angle": 270, "align": "center", "baseline": "middle", "xOffset": -20.3},
          "encoding": {
            "y": {"field": "v", "type": "quantitative", "scale": {"domain": [0, 6000], "range": [730.3, 610.7]}, "axis": null},
            "x": {"datum": -3.77, "type": "quantitative", "scale": {"domain": [0, 300], "range": [450, 665]}, "axis": null},
            "text": {"field": "lab"}
          }
        },
        {
          "data": {"name": "jit"},
          "mark": {"type": "line", "strokeWidth": 1.1},
          "encoding": {
            "x": {"field": "t", "type": "quantitative", "scale": {"domain": [0, 300], "range": [450, 665]}, "axis": null},
            "y": {"field": "v", "type": "quantitative", "scale": {"domain": [0, 6000], "range": [730.3, 610.7]}, "axis": null},
            "color": {"field": "s", "type": "nominal",
              "scale": {"domain": ["Voice", "SDTV", "HDTV", "Data 1", "Data 2"], "range": ["#3a3aa6", "#e5403c", "#2e9b46", "#8e2f8f", "#5cc6da"]},
              "legend": {"orient": "none", "legendX": 522, "legendY": 754, "direction": "horizontal", "columns": 5, "title": null,
                "labelFont": "Liberation Sans", "labelFontSize": 4.5, "labelColor": "#333333", "symbolType": "circle", "symbolSize": 5,
                "symbolStrokeWidth": 1.4, "columnPadding": 3, "labelOffset": 1, "padding": 0}}
          }
        }
      ]
    }
  ],
  "resolve": {
    "scale": {"x": "independent", "y": "independent", "color": "independent", "fill": "independent", "stroke": "independent"},
    "legend": {"color": "independent"}
  }
}
